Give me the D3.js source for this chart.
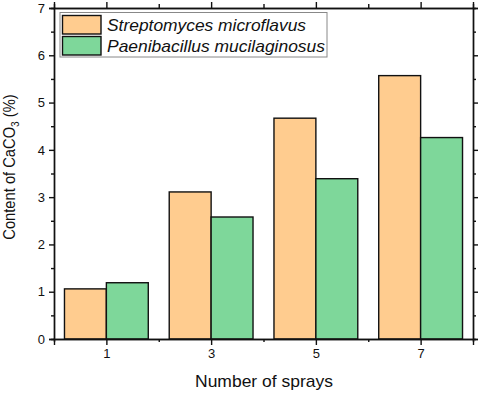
<!DOCTYPE html>
<html><head><meta charset="utf-8">
<script src="https://cdn.jsdelivr.net/npm/d3@7"></script>
<style>body{margin:0;background:#fff}svg{display:block}text{font-family:"Liberation Sans",Arial,sans-serif;fill:#111}</style>
</head><body>
<script>
const sprays = [1, 3, 5, 7];
const seriesNames = ["Streptomyces microflavus", "Paenibacillus mucilaginosus"];
const streptomyces = [1.06, 3.11, 4.67, 5.57];
const paenibacillus = [1.19, 2.58, 3.39, 4.26];
const colors = ["#FFCC8F", "#7ED79A"];
const yTicks = [0, 1, 2, 3, 4, 5, 6, 7];
const xTicks = [1, 3, 5, 7];

const W = 484, H = 393;
const m = {l: 54, r: 473, t: 8, b: 339};
const svg = d3.select("body").append("svg").attr("width", W).attr("height", H);
const x = d3.scaleLinear().domain([0, 8]).range([m.l, m.r]);
const y = d3.scaleLinear().domain([0, 7]).range([m.b, m.t]);
const bw = 0.8;

const series = [streptomyces, paenibacillus];
series.forEach((vals, si) => {
  svg.append("g").selectAll("rect").data(vals).join("rect")
    .attr("x", (d, i) => x(sprays[i] + (si === 0 ? -bw : 0)))
    .attr("width", (d, i) => x(sprays[i] + bw) - x(sprays[i]))
    .attr("y", d => y(d))
    .attr("height", d => y(0) - y(d))
    .attr("fill", colors[si]).attr("stroke", "#111").attr("stroke-width", 1.4);
});

// axes
const gl = svg.append("g").attr("transform", `translate(${m.l},0)`)
  .call(d3.axisLeft(y).tickValues(yTicks).tickFormat(d3.format("d")).tickSize(5).tickPadding(4));
const glm = svg.append("g").attr("transform", `translate(${m.l},0)`)
  .call(d3.axisLeft(y).tickValues(d3.range(0.5, 7, 1)).tickFormat("").tickSize(3));
const gr = svg.append("g").attr("transform", `translate(${m.r},0)`)
  .call(d3.axisRight(y).tickValues(yTicks).tickFormat("").tickSize(5));
const grm = svg.append("g").attr("transform", `translate(${m.r},0)`)
  .call(d3.axisRight(y).tickValues(d3.range(0.5, 7, 1)).tickFormat("").tickSize(3));
const gb = svg.append("g").attr("transform", `translate(0,${m.b})`)
  .call(d3.axisBottom(x).tickValues(xTicks).tickFormat(d3.format("d")).tickSize(6).tickPadding(4));
const gbm = svg.append("g").attr("transform", `translate(0,${m.b})`)
  .call(d3.axisBottom(x).tickValues([2, 4, 6]).tickFormat("").tickSize(3));
const gt = svg.append("g").attr("transform", `translate(0,${m.t})`)
  .call(d3.axisTop(x).tickValues([1, 3, 5, 7]).tickFormat("").tickSize(6));
const gtm = svg.append("g").attr("transform", `translate(0,${m.t})`)
  .call(d3.axisTop(x).tickValues([2, 4, 6]).tickFormat("").tickSize(4));
[gl, glm, gr, grm, gb, gbm, gt, gtm].forEach(g => {
  g.selectAll(".domain").attr("stroke", "#111").attr("stroke-width", 1.4);
  g.selectAll(".tick line").attr("stroke", "#111").attr("stroke-width", 1.4);
  g.selectAll(".tick text").style("font-size", "13px").attr("fill", "#111")
    .style("font-family", '"Liberation Sans",Arial,sans-serif');
});

// axis titles
svg.append("text").attr("x", 264).attr("y", 387).attr("text-anchor", "middle")
  .attr("font-size", 17).attr("textLength", 138).attr("lengthAdjust", "spacingAndGlyphs")
  .text("Number of sprays");
const yl = svg.append("text").attr("transform", `translate(15,167) rotate(-90) scale(0.92,1)`)
  .attr("text-anchor", "middle").attr("font-size", 16);
yl.append("tspan").text("Content of CaCO");
yl.append("tspan").attr("font-size", 11).attr("dy", 4).text("3");
yl.append("tspan").attr("dy", -4).text(" (%)");

// legend
const lg = svg.append("g");
lg.append("rect").attr("x", 60).attr("y", 12.5).attr("width", 267).attr("height", 44.5)
  .attr("fill", "#fff").attr("stroke", "#888").attr("stroke-width", 1);
const legLen = [199, 218];
seriesNames.forEach((n, i) => {
  lg.append("rect").attr("x", 62.5).attr("y", 15.5 + i * 21).attr("width", 38.5).attr("height", 18.5)
    .attr("fill", colors[i]).attr("stroke", "#111").attr("stroke-width", 1.4);
  lg.append("text").attr("x", 107).attr("y", 30.5 + i * 21).attr("font-size", 17)
    .attr("font-style", "italic").attr("textLength", legLen[i]).attr("lengthAdjust", "spacingAndGlyphs").text(n);
});
</script>
</body></html>
